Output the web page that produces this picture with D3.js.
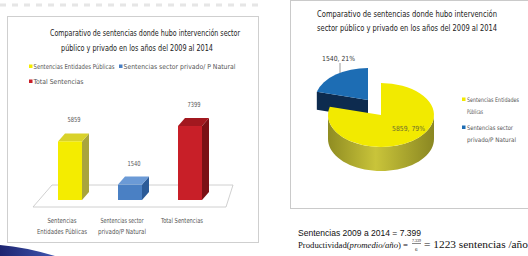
<!doctype html>
<html>
<head>
<style>
    body { margin: 0; background: #fff; }
    svg { display: block; }
    .narrow { font-family: "Liberation Sans Narrow", "DejaVu Sans Condensed", "Roboto Condensed", sans-serif; }
</style>
<script src="https://d3js.org/d3.v7.min.js"></script>
</head>
<body>
<svg width="528" height="256"></svg>
<script>
    // data
    var categories = ["Sentencias Entidades Públicas", "Sentencias sector privado/ P Natural", "Total Sentencias"];
    var axisLabels = [["Sentencias", "Entidades Públicas"], ["Sentencias sector", "privado/P Natural"], ["Total Sentencias"]];
    var values = [5859, 1540, 7399];
    var pieCategories = ["Sentencias sector privado/P Natural", "Sentencias Entidades Públicas"];
    var pieValues = [1540, 5859];
    var pieLabels = ["1540, 21%", "5859, 79%"];

    var svg = d3.select("svg");
    var defs = svg.append("defs");

    // squeeze a text to the width it has in the picture (centred when mid is true)
    function fit(g, px, py, str, w, size, color, mid) {
        var t = g.append("text").attr("x", mid ? px - w / 2 : px).attr("y", py)
            .attr("font-size", size).attr("fill", color).text(str);
        if (w) t.attr("textLength", w).attr("lengthAdjust", "spacingAndGlyphs");
        return t;
    }

    // faint dashes at the very top
    svg.append("line").attr("x1", 0).attr("x2", 262).attr("y1", 5).attr("y2", 5)
       .attr("stroke", "#e6e6e6").attr("stroke-width", 3).attr("stroke-dasharray", "6,6");

    // ---------- left panel : 3D bars ----------
    svg.append("rect").attr("x", 7.5).attr("y", 16.5).attr("width", 251).attr("height", 226)
       .attr("fill", "#fff").attr("stroke", "#cfcfcf");

    var left = svg.append("g").attr("class", "narrow");
    fit(left, 50, 36, "Comparativo de sentencias donde hubo intervención sector", 190, 8.5, "#1a1a1a");
    fit(left, 61, 51, "público y  privado en los años del 2009 al 2014", 152, 8.5, "#1a1a1a");

    var colors = [
        {front: "#f4ec00", side: "#a9a53c", top: "#d9d22a"},
        {front: "#4a80c4", side: "#2c5b98", top: "#6b9ad6"},
        {front: "#c81f28", side: "#7b1116", top: "#a2181f"}
    ];

    var legendPos = [[29, 67, 81], [119, 67, 112], [29, 82, 50]];
    categories.forEach(function(c, i) {
        left.append("rect").attr("x", legendPos[i][0]).attr("y", legendPos[i][1] - 2.5)
            .attr("width", 3.5).attr("height", 3.5).attr("fill", colors[i].front);
        fit(left, legendPos[i][0] + 4.5, legendPos[i][1] + 2, c, legendPos[i][2], 6.8, "#555");
    });

    var x = d3.scaleBand().domain(categories).range([40, 220]).paddingInner(0.6).paddingOuter(0.3);
    var y = d3.scaleLinear().domain([0, 8000]).range([200, 120]);
    var dx = 7, dy = 8;
    var base = y(0);

    // floor
    var fx0 = x.range()[0], fx1 = x.range()[1];
    left.append("polygon")
        .attr("points", [[fx0 + 12, base - 15], [fx1 + 13, base - 15], [fx1 + 6, base + 7], [fx0 - 7, base + 7]].join(" "))
        .attr("fill", "#fff").attr("stroke", "#c4c4c4").attr("stroke-width", 0.8);

    var bw = x.bandwidth();
    var bars = left.selectAll(".bar").data(values).enter().append("g").attr("class", "bar");
    bars.append("polygon").attr("fill", function(d, i) { return colors[i].side; })
        .attr("points", function(d, i) {
            var x0 = x(categories[i]) + bw, yt = y(d);
            return [[x0, yt], [x0 + dx, yt - dy], [x0 + dx, base - dy], [x0, base]].join(" ");
        });
    bars.append("polygon").attr("fill", function(d, i) { return colors[i].top; })
        .attr("points", function(d, i) {
            var x0 = x(categories[i]), yt = y(d);
            return [[x0, yt], [x0 + dx, yt - dy], [x0 + bw + dx, yt - dy], [x0 + bw, yt]].join(" ");
        });
    bars.append("rect").attr("fill", function(d, i) { return colors[i].front; })
        .attr("x", function(d, i) { return x(categories[i]); })
        .attr("y", function(d) { return y(d); })
        .attr("width", bw)
        .attr("height", function(d) { return base - y(d); });
    values.forEach(function(v, i) {
        fit(left, x(categories[i]) + bw / 2 + 4, y(v) - dy - 11, v, 13, 7, "#555", true);
    });

    var axisW = [[29, 50], [43, 48], [42]];
    axisLabels.forEach(function(lines, i) {
        lines.forEach(function(l, k) {
            fit(left, x(categories[i]) + bw / 2 - 8, 222.5 + k * 11.5, l, axisW[i][k], 7, "#555", true);
        });
    });

    // dark swoosh bottom-left
    var grad = defs.append("linearGradient").attr("id", "sw").attr("x1", 0).attr("x2", 1);
    grad.append("stop").attr("offset", 0).attr("stop-color", "#1d2470");
    grad.append("stop").attr("offset", 1).attr("stop-color", "#3f56b0");
    svg.append("path").attr("d", "M0,245 Q25,247 55,256 L0,256 Z").attr("fill", "url(#sw)");

    // ---------- right panel : 3D pie ----------
    svg.append("rect").attr("x", 290.5).attr("y", 0.5).attr("width", 245).attr("height", 208)
       .attr("fill", "#fff").attr("stroke", "#cacaca");

    var right = svg.append("g").attr("class", "narrow");
    fit(right, 317, 17, "Comparativo de sentencias donde hubo intervención", 180, 8.5, "#1a1a1a");
    fit(right, 317, 31, "sector público y  privado en los años del 2009 al 2014", 180, 8.5, "#1a1a1a");

    var total = d3.sum(pieValues);
    var start = -2 * Math.PI * pieValues[0] / total;
    var pie = d3.pie().sort(null).startAngle(start).endAngle(start + 2 * Math.PI);
    var arcs = pie(pieValues);

    var wall = defs.append("linearGradient").attr("id", "ywall").attr("x1", 0).attr("x2", 1);
    wall.append("stop").attr("offset", 0).attr("stop-color", "#8f8c22");
    wall.append("stop").attr("offset", 0.45).attr("stop-color", "#c9c43a");
    wall.append("stop").attr("offset", 1).attr("stop-color", "#8a8722");

    var rx = 53, ry = 32, depth = 24, pcx = 377, pcy = 107;
    var offsets = [[-9, -7], [4, 8]];
    var pieColors = [
        {top: "#1d6db4", side: "#0d2b4f"},
        {top: "#f2ea00", side: "url(#ywall)"}
    ];
    function pt(c, a) { return [c[0] + rx * Math.sin(a), c[1] - ry * Math.cos(a)]; }

    arcs.forEach(function(a, i) {
        var c = [pcx + offsets[i][0], pcy + offsets[i][1]];
        var g = right.append("g");
        // outer wall (front half only)
        var a0 = Math.max(a.startAngle, Math.PI / 2), a1 = Math.min(a.endAngle, 3 * Math.PI / 2);
        if (a1 > a0) {
            var topPts = d3.range(0, 41).map(function(k) { return pt(c, a0 + (a1 - a0) * k / 40); });
            var botPts = topPts.slice().reverse().map(function(p) { return [p[0], p[1] + depth]; });
            g.append("path").attr("d", d3.line()(topPts.concat(botPts)) + "Z").attr("fill", pieColors[i].side);
        }
        // radial cut face facing the viewer
        if (i === 0) {
            var r = pt(c, a.startAngle);
            g.append("path").attr("d", d3.line()([c, r, [r[0], r[1] + depth * 0.75], [c[0], c[1] + depth * 0.75]]) + "Z")
                .attr("fill", pieColors[i].side);
        }
        // top face
        g.append("path")
            .attr("transform", "translate(" + c[0] + "," + c[1] + ") scale(1," + (ry / rx) + ")")
            .attr("d", d3.arc().innerRadius(0).outerRadius(rx)(a))
            .attr("fill", pieColors[i].top);
    });

    // pie labels
    fit(right, 322, 61, pieLabels[0], 33, 7, "#333");
    right.append("line").attr("x1", 340).attr("x2", 340).attr("y1", 63).attr("y2", 73)
         .attr("stroke", "#555").attr("stroke-width", 0.6);
    fit(right, 392, 131, pieLabels[1], 33, 7, "#6b6a30");

    // pie legend
    var pieLegend = [[1, ["Sentencias Entidades", "Públicas"], [52, 16], 101], [0, ["Sentencias sector", "privado/P Natural"], [46, 49], 129]];
    pieLegend.forEach(function(l) {
        right.append("rect").attr("x", 462).attr("y", l[3] - 3.5).attr("width", 3.5).attr("height", 3.5)
             .attr("fill", l[0] === 1 ? "#f2ea00" : pieColors[l[0]].top);
        l[1].forEach(function(s, k) {
            fit(right, 467, l[3] + 0.5 + k * 12, s, l[2][k], 6.2, "#555");
        });
    });

    // ---------- notes under the pie ----------
    var sans = "Liberation Sans, Arial, sans-serif", serif = "Liberation Serif, serif";
    fit(svg, 298, 236, "Sentencias 2009 a 2014 = 7.399", 123, 9.5, "#111").attr("font-family", sans);

    var eq = svg.append("text").attr("x", 298).attr("y", 248)
       .attr("textLength", 110).attr("lengthAdjust", "spacingAndGlyphs")
       .attr("font-family", serif).attr("font-size", 8.8).attr("fill", "#111");
    eq.append("tspan").text("Productividad(");
    eq.append("tspan").attr("font-style", "italic").text("promedio/año");
    eq.append("tspan").text(") =");
    fit(svg, 416.5, 241.5, "7.339", 9, 5, "#111", true).attr("font-family", serif);
    svg.append("line").attr("x1", 412).attr("x2", 421).attr("y1", 243.5).attr("y2", 243.5)
       .attr("stroke", "#111").attr("stroke-width", 0.5);
    fit(svg, 415, 250.5, "6", 0, 5, "#111", false).attr("font-family", serif);
    fit(svg, 424, 248, "= 1223 sentencias /año", 104, 10, "#111").attr("font-family", serif);
</script>
</body>
</html>
